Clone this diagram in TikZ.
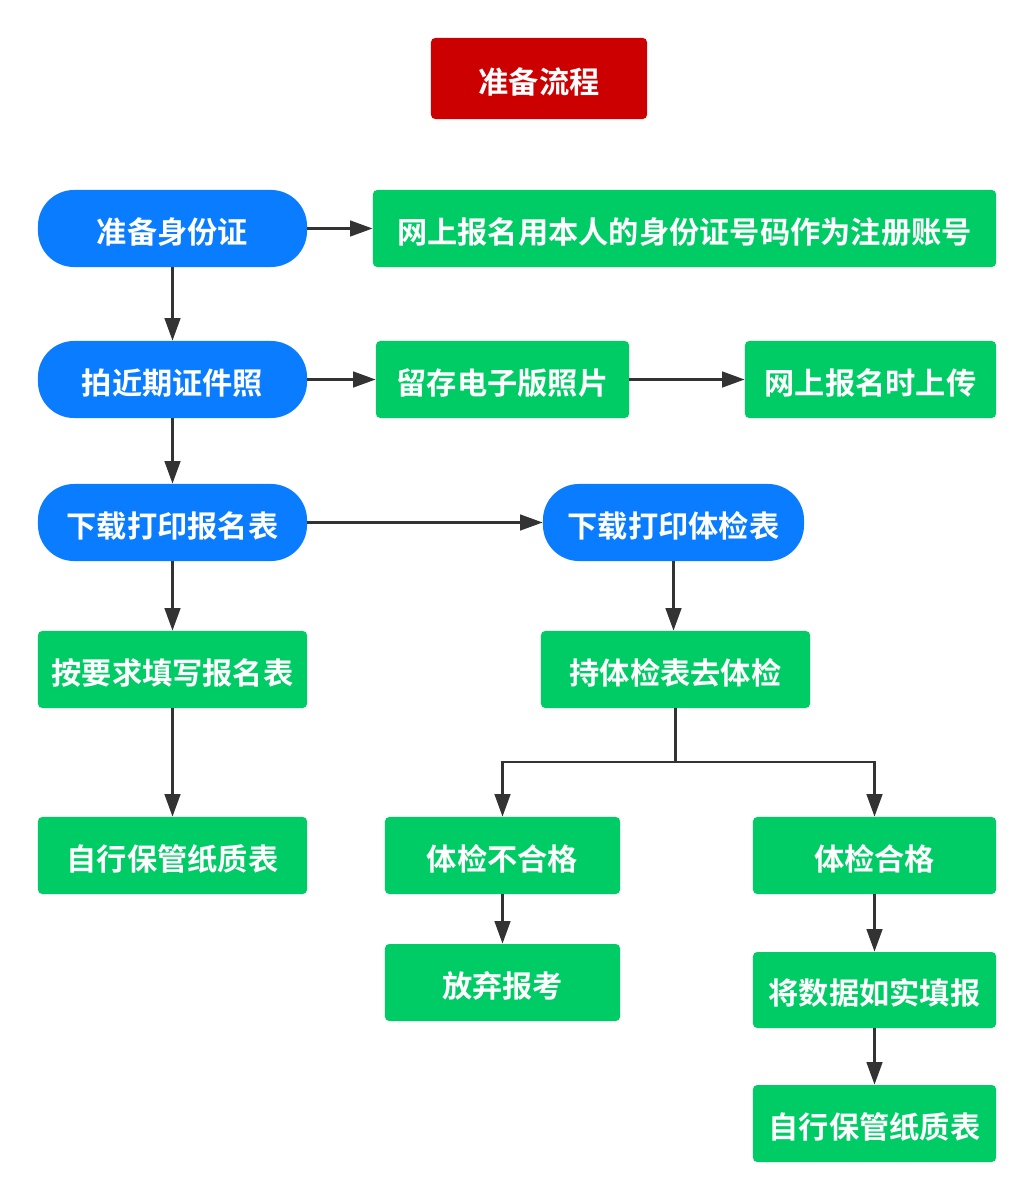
\documentclass[tikz,border=0pt]{standalone}
\usepackage{fontspec}
\usepackage{tikz}
\usetikzlibrary{arrows.meta}
\newfontfamily\cjk{Noto Sans CJK SC Bold}
\definecolor{titlered}{HTML}{CC0000}
\definecolor{stepblue}{HTML}{0A7CFF}
\definecolor{stepgreen}{HTML}{00CC66}
\definecolor{linegray}{HTML}{333333}

\begin{document}
\begin{tikzpicture}[x=0.025cm,y=-0.025cm,
  box/.style={inner sep=0pt, text=white, font=\cjk\fontsize{21.5}{25}\selectfont, text height=24pt, text depth=3pt, minimum height=1.925cm},
  titlebox/.style={box, fill=titlered, rounded corners=3pt, minimum width=5.4cm, minimum height=2.025cm},
  bluebox/.style={box, fill=stepblue, rounded corners=0.9cm, minimum width=6.725cm},
  greenbox/.style={box, fill=stepgreen, rounded corners=3pt},
  arr/.style={draw=linegray, line width=2pt, -{Triangle[length=16pt,width=11pt]}},
  ln/.style={draw=linegray, line width=2pt}]
\useasboundingbox (0,0) rectangle (1034,1200);
% title
\node[titlebox] (title) at (539,78.5) {准备流程};
% left column
\node[bluebox] (id) at (172.5,228.5) {准备身份证};
\node[bluebox] (photo) at (172.5,379.5) {拍近期证件照};
\node[bluebox] (form) at (172.5,522.5) {下载打印报名表};
\node[greenbox, minimum width=6.725cm] (fill) at (172.5,669.5) {按要求填写报名表};
\node[greenbox, minimum width=6.725cm] (keep) at (172.5,855.5) {自行保管纸质表};
% right of id and photo
\node[greenbox, minimum width=15.575cm] (account) at (684.5,228.5) {网上报名用本人的身份证号码作为注册账号};
\node[greenbox, minimum width=6.325cm] (save) at (502.5,379.5) {留存电子版照片};
\node[greenbox, minimum width=6.275cm] (upload) at (870.5,379.5) {网上报名时上传};
% medical check branch
\node[bluebox, minimum width=6.525cm] (medform) at (673.5,522.5) {下载打印体检表};
\node[greenbox, minimum width=6.725cm] (check) at (675.5,669.5) {持体检表去体检};
\node[greenbox, minimum width=5.875cm] (fail) at (502.5,855.5) {体检不合格};
\node[greenbox, minimum width=5.875cm] (quit) at (502.5,982.5) {放弃报考};
\node[greenbox, minimum width=6.075cm] (pass) at (874.5,855.5) {体检合格};
\node[greenbox, minimum width=6.075cm, minimum height=1.9cm] (report) at (874.5,990) {将数据如实填报};
\node[greenbox, minimum width=6.075cm] (keep2) at (874.5,1123.5) {自行保管纸质表};
% connectors
\draw[arr] (id) -- (account);
\draw[arr] (id) -- (photo);
\draw[arr] (photo) -- (save);
\draw[arr] (save) -- (upload);
\draw[arr] (photo) -- (form);
\draw[arr] (form) -- (medform);
\draw[arr] (form) -- (fill);
\draw[arr] (fill) -- (keep);
\draw[arr] (medform) -- (medform |- check.north);
\coordinate (split) at (675.5,762);
\draw[ln] (check) -- (split);
\draw[arr] (split) -| (fail.north);
\draw[arr] (split) -| (pass.north);
\draw[arr] (fail) -- (quit);
\draw[arr] (pass) -- (report);
\draw[arr] (report) -- (keep2);
\end{tikzpicture}
\end{document}
